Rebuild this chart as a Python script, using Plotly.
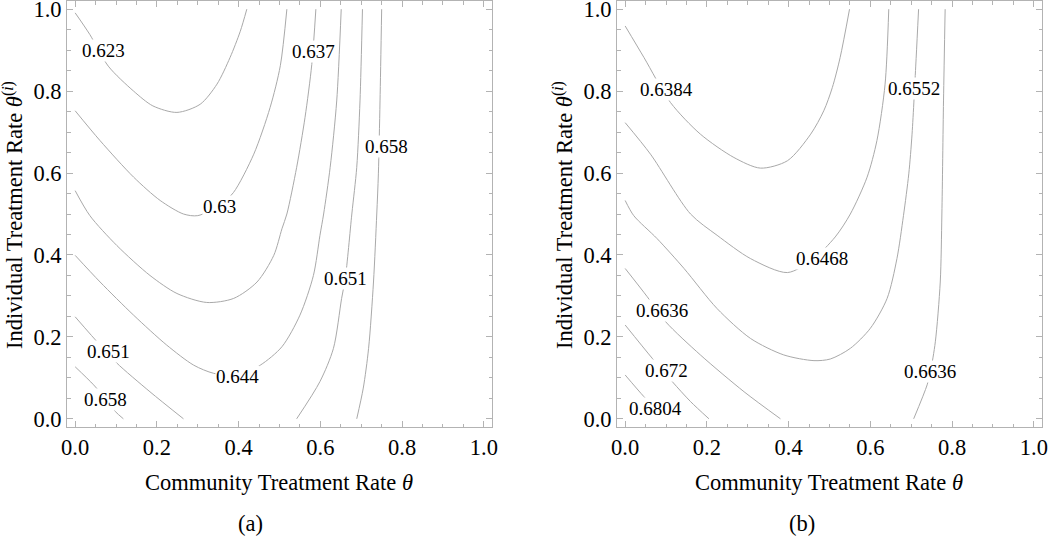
import plotly.graph_objects as go

# ---------------- data ----------------
# Panel (a) contour lines (Community rate theta on x, Individual rate theta^(i) on y)
a_623_x = [0.0, 0.036, 0.081, 0.143, 0.19, 0.249, 0.306, 0.347, 0.379, 0.404, 0.42]
a_623_y = [0.991, 0.938, 0.861, 0.80, 0.764, 0.748, 0.768, 0.817, 0.882, 0.946, 1.0]

a_630_x = [0.0, 0.061, 0.143, 0.208, 0.265, 0.30, 0.354, 0.387, 0.437, 0.477, 0.502, 0.518]
a_630_y = [0.752, 0.679, 0.59, 0.533, 0.50, 0.496, 0.522, 0.552, 0.646, 0.76, 0.862, 1.0]

a_637_x = [0.0, 0.036, 0.102, 0.183, 0.249, 0.322, 0.388, 0.445, 0.486, 0.506, 0.518, 0.542, 0.5625, 0.579, 0.589]
a_637_y = [0.557, 0.496, 0.423, 0.35, 0.306, 0.284, 0.294, 0.334, 0.399, 0.464, 0.50, 0.614, 0.736, 0.865, 1.0]

a_644_x = [0.0, 0.061, 0.143, 0.224, 0.29, 0.339, 0.396, 0.453, 0.506, 0.55, 0.583, 0.599, 0.608, 0.624, 0.64, 0.651]
a_644_y = [0.399, 0.334, 0.253, 0.18, 0.131, 0.111, 0.106, 0.131, 0.176, 0.253, 0.35, 0.448, 0.50, 0.614, 0.776, 1.0]

a_651r_x = [0.542, 0.599, 0.632, 0.652, 0.661, 0.677, 0.689, 0.697, 0.703]
a_651r_y = [0.0, 0.091, 0.172, 0.294, 0.343, 0.50, 0.614, 0.776, 1.0]

a_658r_x = [0.689, 0.705, 0.718, 0.73, 0.738, 0.742, 0.746, 0.75]
a_658r_y = [0.0, 0.075, 0.172, 0.334, 0.50, 0.598, 0.776, 1.0]

a_651l_x = [0.0, 0.061, 0.081, 0.102, 0.183, 0.265]
a_651l_y = [0.249, 0.18, 0.16, 0.136, 0.066, 0.0]

a_658l_x = [0.0, 0.045, 0.075, 0.098, 0.118]
a_658l_y = [0.127, 0.083, 0.048, 0.018, 0.0]

a_label_text = ["0.623", "0.63", "0.637", "0.644", "0.651", "0.658", "0.651", "0.658"]
a_label_x = [0.069, 0.354, 0.583, 0.396, 0.661, 0.763, 0.081, 0.075]
a_label_y = [0.898, 0.518, 0.896, 0.103, 0.343, 0.665, 0.164, 0.048]

# Panel (b) contour lines
b_6384_x = [0.0, 0.046, 0.111, 0.184, 0.266, 0.331, 0.397, 0.454, 0.486, 0.507, 0.526, 0.549]
b_6384_y = [0.959, 0.882, 0.772, 0.695, 0.638, 0.612, 0.63, 0.695, 0.752, 0.809, 0.882, 1.0]

b_6468_x = [0.0, 0.062, 0.16, 0.225, 0.307, 0.397, 0.46, 0.514, 0.551, 0.592, 0.616, 0.636, 0.645]
b_6468_y = [0.723, 0.646, 0.50, 0.448, 0.391, 0.357, 0.39, 0.444, 0.50, 0.59, 0.679, 0.817, 1.0]

b_6552_x = [0.0, 0.021, 0.078, 0.144, 0.225, 0.307, 0.388, 0.462, 0.502, 0.551, 0.60, 0.641, 0.665, 0.681, 0.694, 0.702, 0.712, 0.718]
b_6552_y = [0.533, 0.496, 0.44, 0.367, 0.269, 0.196, 0.156, 0.142, 0.146, 0.172, 0.221, 0.294, 0.391, 0.496, 0.598, 0.695, 0.88, 1.0]

b_6636r_x = [0.706, 0.739, 0.747, 0.759, 0.771, 0.775, 0.779, 0.783]
b_6636r_y = [0.0, 0.083, 0.115, 0.188, 0.334, 0.50, 0.776, 1.0]

b_6636l_x = [0.0, 0.054, 0.099, 0.184, 0.291, 0.38]
b_6636l_y = [0.367, 0.298, 0.237, 0.156, 0.066, 0.0]

b_672_x = [0.0, 0.066, 0.115, 0.16, 0.205]
b_672_y = [0.229, 0.148, 0.091, 0.042, 0.0]

b_6804_x = [0.0, 0.046, 0.07]
b_6804_y = [0.107, 0.054, 0.03]

b_label_text = ["0.6384", "0.6552", "0.6468", "0.6636", "0.672", "0.6804", "0.6636"]
b_label_x = [0.10, 0.706, 0.482, 0.091, 0.10, 0.073, 0.745]
b_label_y = [0.803, 0.807, 0.391, 0.265, 0.117, 0.024, 0.115]

tick_vals = [0.0, 0.2, 0.4, 0.6, 0.8, 1.0]
tick_text = ["0.0", "0.2", "0.4", "0.6", "0.8", "1.0"]

# ---------------- figure ----------------
FONT = "Liberation Serif, DejaVu Serif, serif"
LINE_COLOR = "#a9a9a9"
FRAME_COLOR = "#b3b3b3"
W, H = 1050, 537

fig = go.Figure()

a_lines = [(a_623_x, a_623_y), (a_630_x, a_630_y), (a_637_x, a_637_y), (a_644_x, a_644_y),
           (a_651r_x, a_651r_y), (a_658r_x, a_658r_y), (a_651l_x, a_651l_y), (a_658l_x, a_658l_y)]
b_lines = [(b_6384_x, b_6384_y), (b_6468_x, b_6468_y), (b_6552_x, b_6552_y),
           (b_6636r_x, b_6636r_y), (b_6636l_x, b_6636l_y), (b_672_x, b_672_y), (b_6804_x, b_6804_y)]

for xs, ys in a_lines:
    fig.add_trace(go.Scatter(x=xs, y=ys, mode="lines", xaxis="x", yaxis="y",
                             line=dict(color=LINE_COLOR, width=1, shape="spline", smoothing=0.8),
                             hoverinfo="skip"))
for xs, ys in b_lines:
    fig.add_trace(go.Scatter(x=xs, y=ys, mode="lines", xaxis="x2", yaxis="y2",
                             line=dict(color=LINE_COLOR, width=1, shape="spline", smoothing=0.8),
                             hoverinfo="skip"))

annotations = []
for t, x, y in zip(a_label_text, a_label_x, a_label_y):
    annotations.append(dict(text=t, x=x, y=y, xref="x", yref="y", showarrow=False,
                            font=dict(family=FONT, size=19, color="black"),
                            bgcolor="white", borderpad=0))
for t, x, y in zip(b_label_text, b_label_x, b_label_y):
    annotations.append(dict(text=t, x=x, y=y, xref="x2", yref="y2", showarrow=False,
                            font=dict(family=FONT, size=19, color="black"),
                            bgcolor="white", borderpad=0))

title_font = dict(family=FONT, size=22.5, color="black")
xtitle = "Community Treatment Rate <i>θ</i>"
ytitle = "Individual Treatment Rate <i>θ</i><sup>(<i>i</i>)</sup>"
for cx, ycx in [(279, 13), (829, 563)]:
    annotations.append(dict(text=xtitle, x=cx / W, y=1 - 482 / H, xref="paper", yref="paper",
                            showarrow=False, font=title_font, xanchor="center", yanchor="middle"))
    annotations.append(dict(text=ytitle, x=ycx / W, y=1 - 215 / H, xref="paper", yref="paper",
                            showarrow=False, font=title_font, textangle=-90,
                            xanchor="center", yanchor="middle"))
for cx, cap in [(250, "(a)"), (802, "(b)")]:
    annotations.append(dict(text=cap, x=cx / W, y=1 - 523 / H, xref="paper", yref="paper",
                            showarrow=False, font=title_font, xanchor="center", yanchor="middle"))


def axis(domain, anchor):
    return dict(domain=domain, anchor=anchor, range=[-0.02, 1.02], tickvals=tick_vals,
                ticktext=tick_text, ticks="inside", ticklen=6, tickwidth=1, tickcolor=FRAME_COLOR,
                showline=True, linecolor=FRAME_COLOR, linewidth=1, mirror="ticks",
                showgrid=False, zeroline=False, automargin=False, ticklabeloverflow="allow",
                tickfont=dict(family=FONT, size=22.5, color="black"),
                minor=dict(ticks="inside", ticklen=3.5, tickcolor=FRAME_COLOR, tick0=0, dtick=0.05,
                           showgrid=False))


ydom = [110 / H, 536 / H]
fig.update_layout(
    width=W, height=H, margin=dict(l=0, r=0, t=0, b=0, autoexpand=False),
    paper_bgcolor="white", plot_bgcolor="white", showlegend=False,
    xaxis=axis([67 / W, 492 / W], "y"),
    yaxis=axis(ydom, "x"),
    xaxis2=axis([617 / W, 1042 / W], "y2"),
    yaxis2=axis(ydom, "x2"),
    annotations=annotations,
)

fig.write_html("out.html",
               config={"displayModeBar": False},
               post_script="document.body.style.margin='0';document.body.style.padding='0';"
                           "document.body.style.overflow='hidden';")
